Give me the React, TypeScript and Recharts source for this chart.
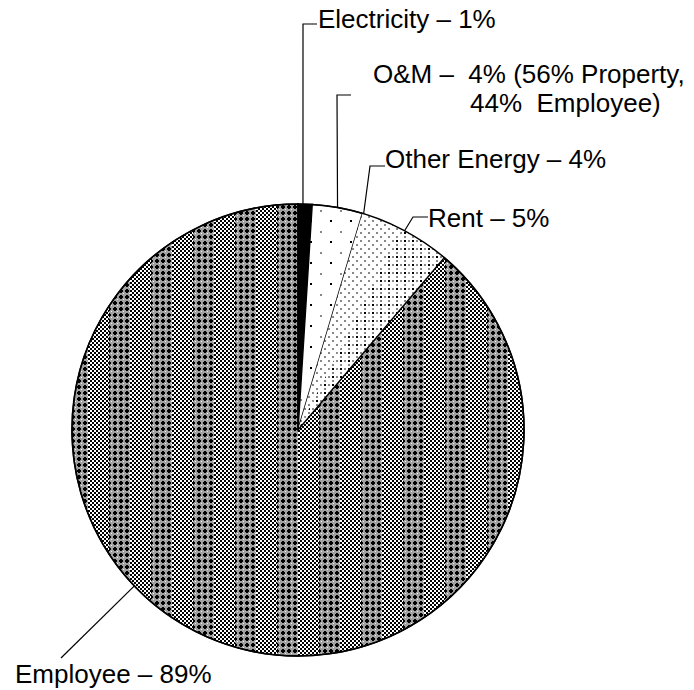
import React from 'react';
import { PieChart, Pie, Cell } from 'recharts';

// slice shares as drawn (clockwise from 12 o'clock)
const categories = ['Electricity', 'O&M', 'Other Energy', 'Rent', 'Employee'];
const shares = [1, 3.6, 3, 3.6, 88.8];
const labelText = [
  ['Electricity – 1%'],
  ['O&M –  4% (56% Property,', '44%  Employee)'],
  ['Other Energy – 4%'],
  ['Rent – 5%'],
  ['Employee – 89%'],
];

const fills = ['#000', 'url(#omDots)', 'url(#energyDots)', 'url(#rentDots)', 'url(#employee)'];
// the two dotted slices run into each other without a border in the original
const strokes = ['#000', '#000', 'none', 'none', '#000'];

// where each leader touches the slice (fraction along the arc), its elbow, and the text spot
const labelLayout = [
  { t: 0.35, elbow: [303, 24], end: [317, 24], text: [[318, 28]] },
  { t: 0.5, elbow: [337, 95], end: [351, 95], text: [[373, 83], [470, 112]] },
  { t: 0.03, elbow: [370, 166], end: [385, 166], text: [[385, 168]] },
  { t: 0.06, elbow: [413, 217], end: [428, 217], text: [[428, 227]] },
  { t: 0.582, elbow: [61, 658], end: [61, 658], text: [[15, 683]] },
];

const data = categories.map((name, i) => ({ name, value: shares[i] }));
const outline = [{ name: 'total', value: 100 }];

const RAD = Math.PI / 180;

const renderLabel = (props: any) => {
  const { cx, cy, outerRadius, startAngle, endAngle, index } = props;
  const lay = labelLayout[index];
  const a = startAngle + lay.t * (endAngle - startAngle);
  const px = cx + outerRadius * Math.cos(-a * RAD);
  const py = cy + outerRadius * Math.sin(-a * RAD);
  return (
    <g key={`lbl-${index}`}>
      <polyline
        points={`${px},${py} ${lay.elbow[0]},${lay.elbow[1]} ${lay.end[0]},${lay.end[1]}`}
        fill="none"
        stroke="#000"
        strokeWidth={1.2}
      />
      <text fontFamily="'Liberation Sans', Arial, sans-serif" fontSize={26} fill="#000" style={{ whiteSpace: 'pre' }}>
        {labelText[index].map((line, j) => (
          <tspan key={j} x={lay.text[j][0]} y={lay.text[j][1]}>
            {line}
          </tspan>
        ))}
      </text>
    </g>
  );
};

export default function App() {
  return (
    <div style={{ position: 'absolute', left: 0, top: 0, background: '#fff' }}>
      <PieChart width={694} height={690} margin={{ top: 0, right: 0, bottom: 0, left: 0 }}>
        <defs>
          <pattern id="checker" patternUnits="userSpaceOnUse" width={4} height={4}>
            <rect width={4} height={4} fill="#000" />
            <rect x={0} y={0} width={2} height={2} fill="#fff" />
            <rect x={2} y={2} width={2} height={2} fill="#fff" />
          </pattern>
          <pattern id="grayCross" patternUnits="userSpaceOnUse" width={6} height={6}>
            <rect width={6} height={6} fill="#a0a0a0" />
            <rect x={2} y={1} width={2} height={4} fill="#000" />
            <rect x={1} y={2} width={4} height={2} fill="#000" />
            <rect x={5} y={5} width={1} height={1} fill="#f0f0f0" />
          </pattern>
          <pattern id="employee" patternUnits="userSpaceOnUse" x={4} y={0} width={42} height={12}>
            <rect x={0} width={21} height={12} fill="url(#checker)" />
            <rect x={21} width={21} height={12} fill="url(#grayCross)" />
          </pattern>
          <pattern id="omDots" patternUnits="userSpaceOnUse" width={20} height={21}>
            <rect width={20} height={21} fill="#fff" />
            <rect x={0} y={0} width={2} height={2} fill="#888" />
            <rect x={10} y={10} width={2} height={2} fill="#000" />
          </pattern>
          <pattern id="energyDots" patternUnits="userSpaceOnUse" width={8} height={8}>
            <rect width={8} height={8} fill="#fff" />
            <rect x={0} y={0} width={2} height={2} fill="#888" />
            <rect x={4} y={4} width={2} height={2} fill="#888" />
          </pattern>
          <pattern id="rentDots" patternUnits="userSpaceOnUse" width={8} height={8}>
            <rect width={8} height={8} fill="#fff" />
            <rect x={0} y={0} width={2} height={2} fill="#888" />
            <rect x={4} y={4} width={2} height={2} fill="#888" />
            <rect x={4} y={0} width={2} height={2} fill="#000" />
          </pattern>
        </defs>
        <Pie
          data={data}
          dataKey="value"
          nameKey="name"
          cx={298}
          cy={430}
          outerRadius={226}
          startAngle={90}
          endAngle={-270}
          strokeWidth={1.5}
          label={renderLabel}
          labelLine={false}
          isAnimationActive={false}
        >
          {data.map((entry, i) => (
            <Cell key={`cell-${entry.name}`} fill={fills[i]} stroke={strokes[i]} />
          ))}
        </Pie>
        <Pie
          data={outline}
          dataKey="value"
          cx={298}
          cy={430}
          outerRadius={226}
          startAngle={90}
          endAngle={-270}
          fill="none"
          stroke="#000"
          strokeWidth={1.5}
          isAnimationActive={false}
        />
      </PieChart>
    </div>
  );
}
